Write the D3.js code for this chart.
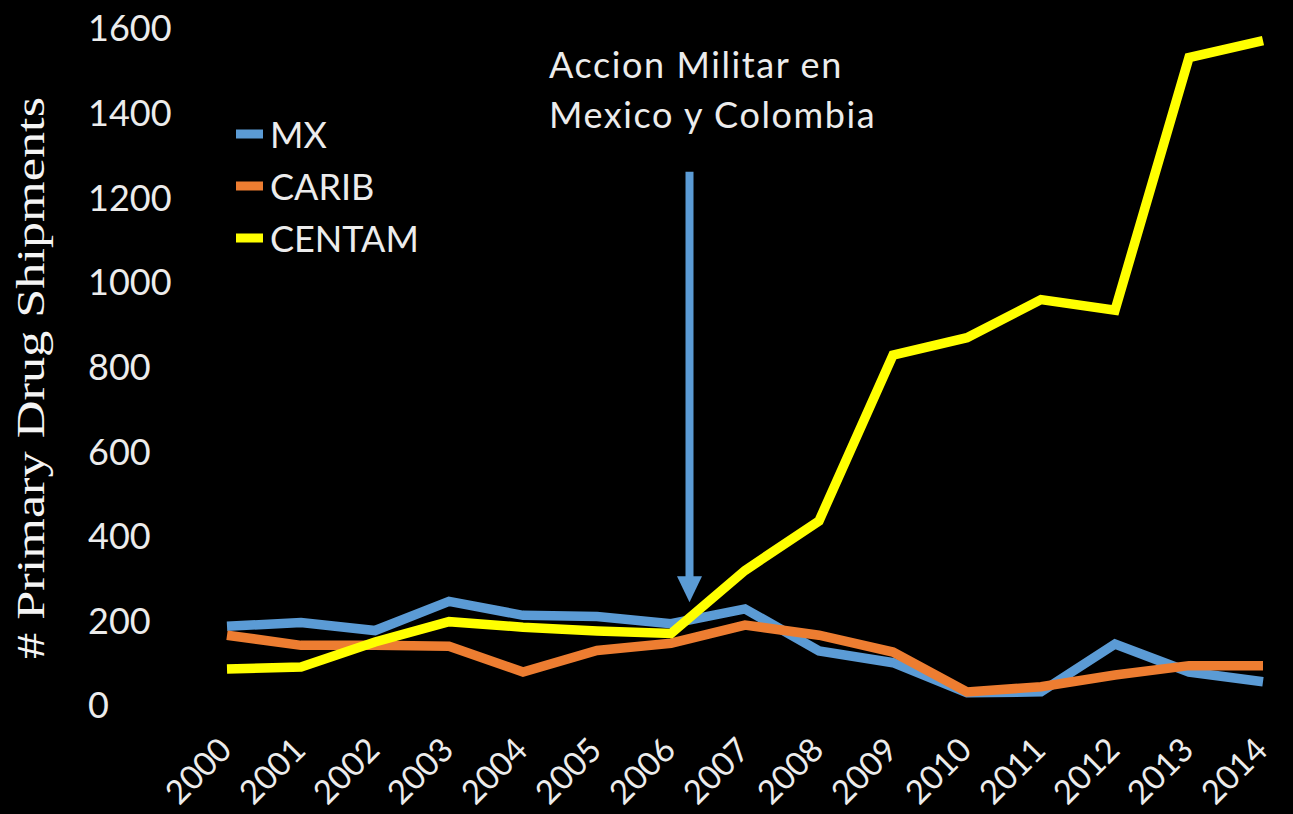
<!DOCTYPE html>
<html>
<head>
<meta charset="utf-8">
<script src="https://cdn.jsdelivr.net/npm/d3@7"></script>
<style>
  html, body { margin: 0; padding: 0; background: #000; }
  svg { display: block; }
</style>
</head>
<body>
<svg id="chart" width="1293" height="814"></svg>
<script>
// Yearly counts of primary drug shipments by route
const years = [2000, 2001, 2002, 2003, 2004, 2005, 2006, 2007, 2008, 2009, 2010, 2011, 2012, 2013, 2014];
const mxValues     = [186, 195, 176, 245, 212, 209, 192, 227, 128, 100, 29, 31, 144, 78, 55];
const caribValues  = [165, 141, 141, 139, 78, 129, 146, 189, 165, 125, 31, 43, 71, 93, 93];
const centamValues = [85, 90, 149, 197, 184, 175, 169, 318, 435, 827, 868, 958, 933, 1530, 1570];
const seriesNames  = ["MX", "CARIB", "CENTAM"];
const yTicks = [0, 200, 400, 600, 800, 1000, 1200, 1400, 1600];

// Annotation: marker for the start of military action (late 2006)
const annotationLines = ["Accion Militar en", "Mexico y Colombia"];
const arrowYear = 2006.25;
const arrowFrom = 1260;
const arrowTo = 243;

const colors = { MX: "#5B9BD5", CARIB: "#ED7D31", CENTAM: "#FFFF00" };
const textColor = "#ececec";
const sansFont = "Lato, 'Open Sans', sans-serif";

const svg = d3.select("#chart");
svg.append("rect").attr("width", 1293).attr("height", 814).attr("fill", "#000");

const x = d3.scaleLinear().domain([2000, 2014]).range([227, 1263]);
const y = d3.scaleLinear().domain([0, 1600]).range([705, 28]);

// Y tick labels (left aligned)
const yAxis = d3.axisLeft(y).tickValues(yTicks).tickSize(0).tickFormat(d3.format("d"));
const yg = svg.append("g").attr("transform", "translate(88,0)").call(yAxis);
yg.select(".domain").remove();
yg.selectAll("text")
  .attr("x", 0)
  .attr("dy", "0.36em")
  .attr("text-anchor", "start")
  .attr("fill", textColor)
  .style("font-family", sansFont)
  .style("font-size", "36px");

// X tick labels, rotated
const xAxis = d3.axisBottom(x).tickValues(years).tickSize(0).tickFormat(d3.format("d"));
const xg = svg.append("g").attr("transform", "translate(0,752)").call(xAxis);
xg.select(".domain").remove();
xg.selectAll(".tick text")
  .attr("x", 6)
  .attr("y", 0)
  .attr("dy", 0)
  .attr("text-anchor", "end")
  .attr("transform", "rotate(-45, 6, 0)")
  .attr("fill", textColor)
  .style("font-family", sansFont)
  .style("font-size", "33px");

// Y axis title
const title = svg.append("text")
  .attr("transform", "translate(44,378) rotate(-90)")
  .attr("text-anchor", "middle")
  .attr("fill", "#f4f4f4")
  .style("font-family", "'Liberation Serif', 'DejaVu Serif', serif")
  .style("font-size", "40px")
  .text("# Primary Drug Shipments");
title.attr("textLength", 562).attr("lengthAdjust", "spacingAndGlyphs");

// Series lines
const seriesData = [
  { name: "MX", values: mxValues },
  { name: "CARIB", values: caribValues },
  { name: "CENTAM", values: centamValues }
];
const line = d3.line().x((d, i) => x(years[i])).y(d => y(d));
svg.append("g").selectAll("path")
  .data(seriesData)
  .join("path")
  .attr("d", d => line(d.values))
  .attr("fill", "none")
  .attr("stroke", d => colors[d.name])
  .attr("stroke-width", 9.5)
  .attr("stroke-linejoin", "miter")
  .attr("stroke-miterlimit", 4);

// Legend
const legend = svg.append("g");
seriesNames.forEach((name, i) => {
  const cy = 134 + i * 52;
  legend.append("rect")
    .attr("x", 236).attr("y", cy - 4.5)
    .attr("width", 27).attr("height", 9)
    .attr("fill", colors[name]);
  legend.append("text")
    .attr("x", 270).attr("y", cy + 14)
    .attr("fill", textColor)
    .style("font-family", sansFont)
    .style("font-size", "36px")
    .text(name);
});

// Annotation arrow
const ax = x(arrowYear);
const headLen = 26, headHalf = 12.5;
svg.append("line")
  .attr("x1", ax).attr("x2", ax)
  .attr("y1", y(arrowFrom)).attr("y2", y(arrowTo) - headLen + 2)
  .attr("stroke", colors.MX)
  .attr("stroke-width", 8);
svg.append("path")
  .attr("d", `M${ax - headHalf},${y(arrowTo) - headLen} L${ax + headHalf},${y(arrowTo) - headLen} L${ax},${y(arrowTo)} Z`)
  .attr("fill", colors.MX);

// Annotation text
svg.append("g").selectAll("text")
  .data(annotationLines)
  .join("text")
  .attr("x", 549)
  .attr("y", (d, i) => 78 + i * 50)
  .attr("fill", textColor)
  .style("font-family", sansFont)
  .style("font-size", "36px")
  .style("letter-spacing", "1.6px")
  .text(d => d);
</script>
</body>
</html>
